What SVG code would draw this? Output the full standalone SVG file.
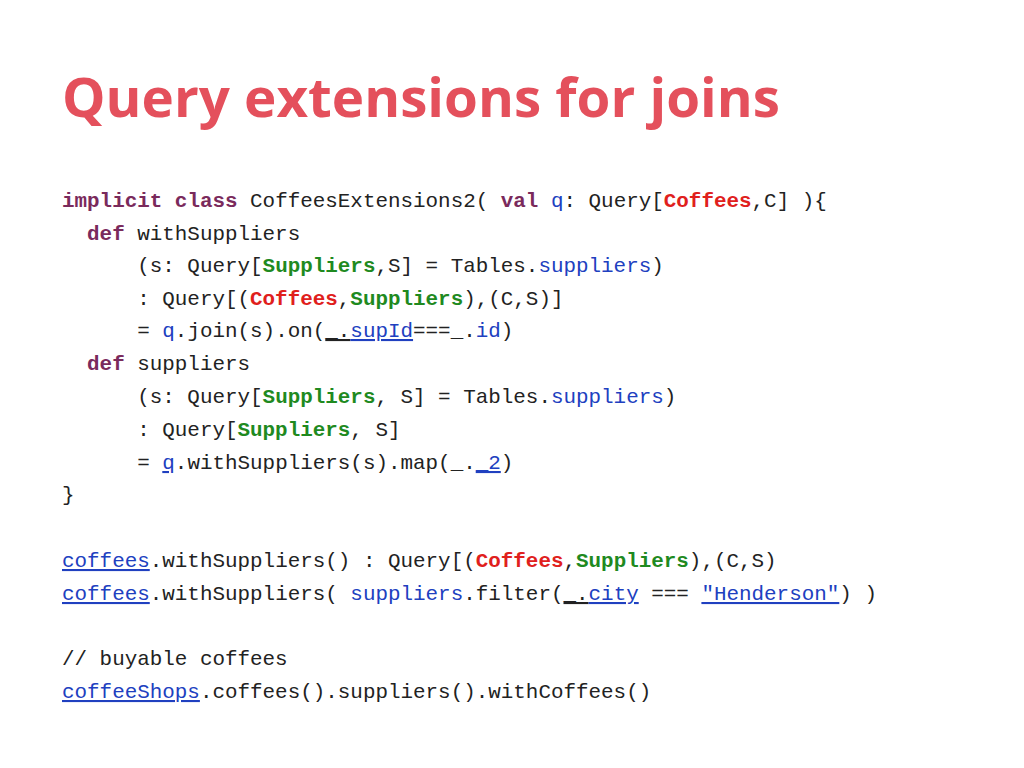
<svg xmlns="http://www.w3.org/2000/svg" width="1024" height="768" viewBox="0 0 1024 768">
<style>
.t{font-family:"Open Sans","Lato",sans-serif;font-weight:bold;font-size:54px;fill:#e4505c}
.c{font-family:"Liberation Mono","DejaVu Sans Mono",monospace;font-size:20.9px;fill:#222;white-space:pre}
.k{fill:#7a2a5c;font-weight:bold}
.r{fill:#e0201c;font-weight:bold}
.g{fill:#1f8a1f;font-weight:bold}
.b{fill:#2040c0}
.u{text-decoration:underline}
</style>
<rect width="1024" height="768" fill="#fff"/>
<g id="title"><text class="t" x="62" y="117" textLength="718" lengthAdjust="spacingAndGlyphs">Query extensions for joins</text></g>
<g id="code" xml:space="preserve">
<text class="c" x="62" y="207"><tspan class="k">implicit</tspan> <tspan class="k">class</tspan> CoffeesExtensions2( <tspan class="k">val</tspan> <tspan class="b">q</tspan>: Query[<tspan class="r">Coffees</tspan>,C] ){</text>
<text class="c" x="62" y="240">  <tspan class="k">def</tspan> withSuppliers</text>
<text class="c" x="62" y="272">      (s: Query[<tspan class="g">Suppliers</tspan>,S] = Tables.<tspan class="b">suppliers</tspan>)</text>
<text class="c" x="62" y="305">      : Query[(<tspan class="r">Coffees</tspan>,<tspan class="g">Suppliers</tspan>),(C,S)]</text>
<text class="c" x="62" y="337">      = <tspan class="b">q</tspan>.join(s).on(<tspan class="u">_.</tspan><tspan class="b u">supId</tspan>===_.<tspan class="b">id</tspan>)</text>
<text class="c" x="62" y="370">  <tspan class="k">def</tspan> suppliers</text>
<text class="c" x="62" y="403">      (s: Query[<tspan class="g">Suppliers</tspan>, S] = Tables.<tspan class="b">suppliers</tspan>)</text>
<text class="c" x="62" y="436">      : Query[<tspan class="g">Suppliers</tspan>, S]</text>
<text class="c" x="62" y="469">      = <tspan class="b u">q</tspan>.withSuppliers(s).map(_.<tspan class="b u">_2</tspan>)</text>
<text class="c" x="62" y="501">}</text>
<text class="c" x="62" y="567"><tspan class="b u">coffees</tspan>.withSuppliers() : Query[(<tspan class="r">Coffees</tspan>,<tspan class="g">Suppliers</tspan>),(C,S)</text>
<text class="c" x="62" y="600"><tspan class="b u">coffees</tspan>.withSuppliers( <tspan class="b">suppliers</tspan>.filter(<tspan class="u">_.</tspan><tspan class="b u">city</tspan> === <tspan class="b u">"Henderson"</tspan>) )</text>
<text class="c" x="62" y="665">// buyable coffees</text>
<text class="c" x="62" y="698"><tspan class="b u">coffeeShops</tspan>.coffees().suppliers().withCoffees()</text>
</g>
<g id="connectors"/>
</svg>
